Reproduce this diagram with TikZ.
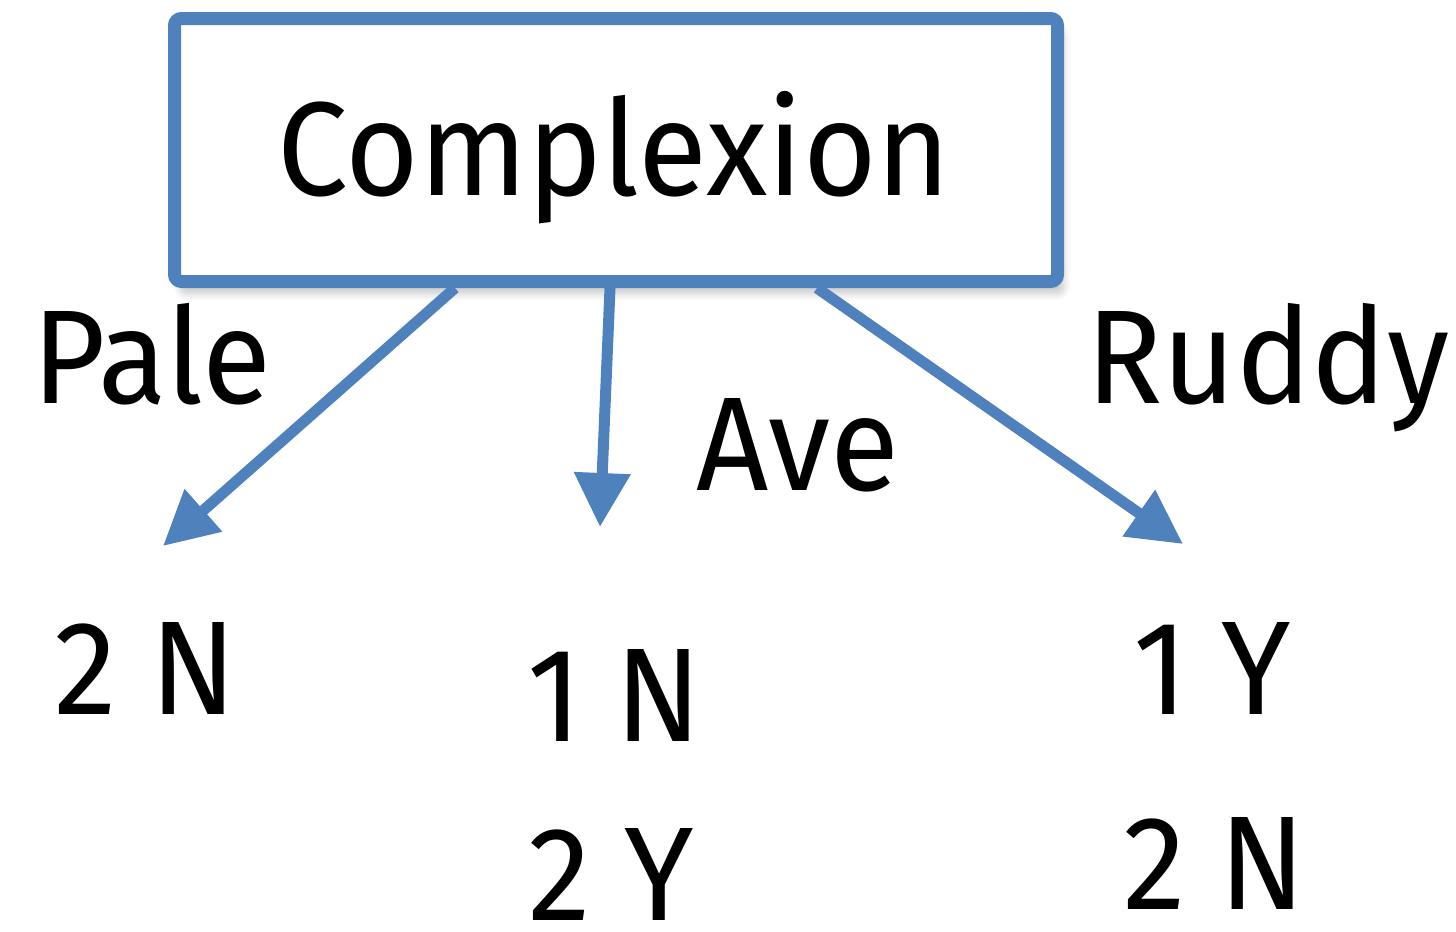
\documentclass[tikz,border=0pt]{standalone}
\usepackage{fontspec}
\setmainfont[FakeStretch=0.945]{Fira Sans}
\usetikzlibrary{arrows.meta,shadows.blur}

\definecolor{treeblue}{HTML}{4F81BD}

\begin{document}
\begin{tikzpicture}[
  >={Triangle[length=0.54cm,width=0.54cm]},
  every node/.style={inner sep=0pt,font=\fontsize{38}{40}\selectfont},
  attr/.style={draw=treeblue,line width=0.13cm,rounded corners=2pt,fill=white,
    minimum width=8.83cm,minimum height=2.63cm,
    blur shadow={shadow xshift=0.6mm,shadow yshift=-1.2mm,shadow opacity=22,shadow blur steps=8}},
  branch/.style={->,draw=treeblue,line width=0.11cm},
  lbl/.style={anchor=base}]
  \useasboundingbox (0,0) rectangle (14.56,9.31);

  % root test
  \node[attr] (root) at (6.16,7.81) {};
  \node[lbl] (roottxt) at (6.14,7.36) {Complexion};

  % branch values
  \node[lbl] (pale)  at (1.52,5.28) {Pale};
  \node[lbl] (ave)   at (7.98,4.41) {Ave};
  \node[lbl] (ruddy) at (12.68,5.28) {Ruddy};

  % class counts
  \node[lbl] (paleN)  at (1.46,2.17) {2 N};
  \node[lbl] (aveN)   at (6.15,1.90) {1 N};
  \node[lbl] (aveY)   at (6.11,0.11) {2 Y};
  \node[lbl] (ruddyY) at (12.12,2.17) {1 Y};
  \node[lbl] (ruddyN) at (12.15,0.22) {2 N};

  \coordinate (tipP) at (1.63,3.85);
  \coordinate (tipA) at (6.00,4.04);
  \coordinate (tipR) at (11.83,3.87);

  \draw[branch] ([xshift=-1.61cm]root.south) -- (tipP);
  \draw[branch] ([xshift=-0.06cm]root.south) -- (tipA);
  \draw[branch] ([xshift=2.01cm]root.south) -- (tipR);
\end{tikzpicture}
\end{document}
